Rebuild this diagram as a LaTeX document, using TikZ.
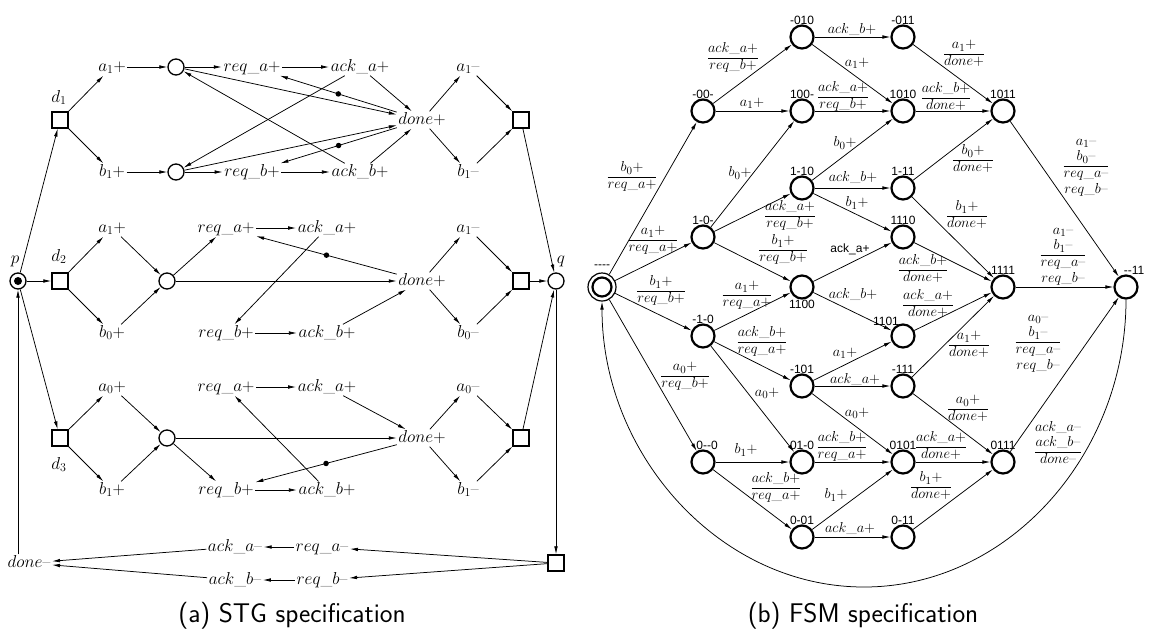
\documentclass[tikz,border=0pt]{standalone}
\usepackage{amsmath}
\usepackage{fontspec}
\newfontfamily\statefont{Liberation Sans}
\usetikzlibrary{arrows.meta}
\renewcommand{\arraystretch}{0.88}
\setlength{\arrayrulewidth}{0.6pt}
% stacked edge labels: input over output signals
\newcommand{\fr}[2]{\begin{tabular}{@{}c@{}}#1\\\hline #2\end{tabular}}
\newcommand{\frt}[3]{\begin{tabular}{@{}c@{}}#1\\#2\\\hline #3\end{tabular}}
\newcommand{\frq}[4]{\begin{tabular}{@{}c@{}}#1\\#2\\\hline #3\\#4\end{tabular}}
\newcommand{\hy}{-\kern0pt}
\begin{document}
\begin{tikzpicture}[x=1pt,y=-1pt,
  >={Latex[length=8pt,width=3.6pt]},
  cn/.style={->,line width=0.75pt},
  lt/.style={font=\fontsize{17}{20}\selectfont,inner sep=1.5pt,text height=11pt,text depth=3pt},
  pl/.style={circle,draw,line width=1.3pt,minimum size=16pt,inner sep=0pt},
  tr/.style={rectangle,draw,line width=1.3pt,minimum size=16pt,inner sep=0pt},
  tok/.style={circle,fill,inner sep=0pt,minimum size=5.5pt},
  st/.style={circle,draw,line width=2.2pt,minimum size=23pt,inner sep=0pt,label distance=5.5pt},
  slbl/.style={font=\statefont\fontsize{12}{14}\selectfont,inner sep=0pt},
  el/.style={font=\fontsize{15}{18}\selectfont,inner sep=0pt},
  captxt/.style={font=\sffamily\fontsize{27}{31}\selectfont,inner sep=0pt}]
\useasboundingbox (0,0) rectangle (1155,632);

% ================= STG =================
% upper branch
\node[tr] (d1) at (60,120) {};
\node[lt] (d1l) at (59,98) {$d_1$};
\node[lt] (a1p1) at (112,67) {$a_1$+};
\node[pl] (c1) at (176,67) {};
\node[lt] (ra1) at (252,67) {$req\_a$+};
\node[lt] (aa1) at (360,67) {$ack\_a$+};
\node[lt] (am1) at (468,67) {$a_1$\textendash};
\node[lt] (dn1) at (422,120) {$done$+};
\node[tr] (r1) at (521,120) {};
\node[lt] (b1p1) at (112,172) {$b_1$+};
\node[pl] (c2) at (176,172) {};
\node[lt] (rb1) at (252,172) {$req\_b$+};
\node[lt] (ab1) at (360,172) {$ack\_b$+};
\node[lt] (bm1) at (468,172) {$b_1$\textendash};

% middle branch
\node[pl] (p) at (18,281) {};
\fill (p.center) circle (4pt);
\node[lt] (pl) at (15,259) {$p$};
\node[tr] (d2) at (60,281) {};
\node[lt] (d2l) at (59,257) {$d_2$};
\node[lt] (a1p2) at (112,228) {$a_1$+};
\node[pl] (c3) at (167,281) {};
\node[lt] (ra2) at (226,228) {$req\_a$+};
\node[lt] (aa2) at (327,228) {$ack\_a$+};
\node[lt] (am2) at (468,228) {$a_1$\textendash};
\node[lt] (dn2) at (422,281) {$done$+};
\node[tr] (r2) at (521,281) {};
\node[pl] (q) at (556,281) {};
\node[lt] (ql) at (561,259) {$q$};
\node[lt] (b0p2) at (112,333) {$b_0$+};
\node[lt] (rb2) at (226,333) {$req\_b$+};
\node[lt] (ab2) at (327,333) {$ack\_b$+};
\node[lt] (bm2) at (468,333) {$b_0$\textendash};

% lower branch
\node[lt] (a0p3) at (112,387) {$a_0$+};
\node[lt] (ra3) at (226,387) {$req\_a$+};
\node[lt] (aa3) at (327,387) {$ack\_a$+};
\node[lt] (am3) at (468,387) {$a_0$\textendash};
\node[tr] (d3) at (60,438) {};
\node[lt] (d3l) at (59,465) {$d_3$};
\node[pl] (c4) at (167,438) {};
\node[lt] (dn3) at (422,438) {$done$+};
\node[tr] (r3) at (521,438) {};
\node[lt] (b1p3) at (112,490) {$b_1$+};
\node[lt] (rb3) at (226,490) {$req\_b$+};
\node[lt] (ab3) at (327,490) {$ack\_b$+};
\node[lt] (bm3) at (468,490) {$b_1$\textendash};

% return to zero
\node[lt] (dnm) at (29,563) {$done$\textendash};
\node[lt] (aam) at (235,547) {$ack\_a$\textendash};
\node[lt] (ram) at (322,547) {$req\_a$\textendash};
\node[lt] (abm) at (235,580) {$ack\_b$\textendash};
\node[lt] (rbm) at (322,580) {$req\_b$\textendash};
\node[tr] (r4) at (556,563) {};

\node[captxt] (capa) at (292,616) {(a) STG specification};

% arcs, upper branch
\draw[cn] (p) -- (d1);
\draw[cn] (d1) -- (a1p1);
\draw[cn] (d1) -- (b1p1);
\draw[cn] (a1p1) -- (c1);
\draw[cn] (b1p1) -- (c2);
\draw[cn] (c1) -- (ra1);
\draw[cn] (ra1) -- (aa1);
\draw[cn] (c2) -- (rb1);
\draw[cn] (rb1) -- (ab1);
\draw[cn] (c1) -- (dn1);
\draw[cn] (c2) -- (dn1);
\draw[cn] (aa1) -- (dn1);
\draw[cn] (ab1) -- (dn1);
\draw[cn] (aa1) -- (c2);
\draw[cn] (ab1) -- (c1);
\draw[cn] (dn1) -- node[tok] (t1) {} (ra1);
\draw[cn] (dn1) -- node[tok] (t2) {} (rb1);
\draw[cn] (dn1) -- (am1);
\draw[cn] (dn1) -- (bm1);
\draw[cn] (am1) -- (r1);
\draw[cn] (bm1) -- (r1);
\draw[cn] (r1) -- (q);

% arcs, middle branch
\draw[cn] (p) -- (d2);
\draw[cn] (d2) -- (a1p2);
\draw[cn] (d2) -- (b0p2);
\draw[cn] (a1p2) -- (c3);
\draw[cn] (b0p2) -- (c3);
\draw[cn] (c3) -- (ra2);
\draw[cn] (c3) -- (dn2);
\draw[cn] (ra2) -- (aa2);
\draw[cn] (aa2) -- (rb2);
\draw[cn] (rb2) -- (ab2);
\draw[cn] (ab2) -- (dn2);
\draw[cn] (dn2) -- node[tok] (t3) {} (ra2);
\draw[cn] (dn2) -- (am2);
\draw[cn] (dn2) -- (bm2);
\draw[cn] (am2) -- (r2);
\draw[cn] (bm2) -- (r2);
\draw[cn] (r2) -- (q);

% arcs, lower branch
\draw[cn] (p) -- (d3);
\draw[cn] (d3) -- (a0p3);
\draw[cn] (d3) -- (b1p3);
\draw[cn] (a0p3) -- (c4);
\draw[cn] (b1p3) -- (c4);
\draw[cn] (c4) -- (dn3);
\draw[cn] (c4) -- (rb3);
\draw[cn] (ra3) -- (aa3);
\draw[cn] (aa3) -- (dn3);
\draw[cn] (rb3) -- (ab3);
\draw[cn] (ab3) -- (ra3);
\draw[cn] (dn3) -- node[tok] (t4) {} (rb3);
\draw[cn] (dn3) -- (am3);
\draw[cn] (dn3) -- (bm3);
\draw[cn] (am3) -- (r3);
\draw[cn] (bm3) -- (r3);
\draw[cn] (r3) -- (q);

% arcs, return to zero
\draw[cn] (q) -- (r4);
\draw[cn] (r4) -- (ram);
\draw[cn] (r4) -- (rbm);
\draw[cn] (ram) -- (aam);
\draw[cn] (rbm) -- (abm);
\draw[cn] (aam) -- (dnm);
\draw[cn] (abm) -- (dnm);
\draw[cn] (dnm.north -| p) -- (p);

% ================= FSM =================
\node[circle,draw,line width=1.2pt,minimum size=28pt,inner sep=0pt,
      label={[slbl,label distance=4pt]above:\hy\hy\hy\hy}] (s0) at (602,287) {};
\draw[line width=2.2pt] (s0.center) circle (9.5pt);

\node[st,label={[slbl]above:\hy 010}] (n010) at (802,37) {};
\node[st,label={[slbl]above:\hy 011}] (n011) at (903,37) {};
\node[st,label={[slbl]above:\hy 00\hy}] (n00) at (703,111) {};
\node[st,label={[slbl]above:100\hy}] (n100) at (802,111) {};
\node[st,label={[slbl]above:1010}] (n1010) at (903,111) {};
\node[st,label={[slbl]above:1011}] (n1011) at (1003,111) {};
\node[st,label={[slbl]above:1\hy 10}] (n1x10) at (802,188) {};
\node[st,label={[slbl]above:1\hy 11}] (n1x11) at (903,188) {};
\node[st,label={[slbl]above:1\hy 0\hy}] (n10) at (703,237) {};
\node[st,label={[slbl]above:1110}] (n1110) at (903,237) {};
\node[st,label={[slbl]below:1100}] (n1100) at (802,287) {};
\node[st,label={[slbl]above:1111}] (n1111) at (1003,287) {};
\node[st,label={[slbl,xshift=8pt]above:\hy\hy 11}] (n11) at (1126,287) {};
\node[st,label={[slbl]above:\hy 1\hy 0}] (nx10) at (703,336) {};
\node[st,label={[slbl,xshift=-17pt,yshift=-2pt]above:1101}] (n1101) at (903,336) {};
\node[st,label={[slbl]above:\hy 101}] (nx101) at (802,386) {};
\node[st,label={[slbl]above:\hy 111}] (nx111) at (903,386) {};
\node[st,label={[slbl,xshift=4pt]above:0\hy\hy 0}] (n0x0) at (703,462) {};
\node[st,label={[slbl]above:01\hy 0}] (n01x0) at (802,462) {};
\node[st,label={[slbl]above:0101}] (n0101) at (903,462) {};
\node[st,label={[slbl]above:0111}] (n0111) at (1003,462) {};
\node[st,label={[slbl]above:0\hy 01}] (n0x01) at (802,537) {};
\node[st,label={[slbl]above:0\hy 11}] (n0x11) at (903,537) {};

% transitions
\draw[cn] (s0) -- (n00);
\draw[cn] (s0) -- (n10);
\draw[cn] (s0) -- (nx10);
\draw[cn] (s0) -- (n0x0);
\draw[cn] (n11.south) .. controls (1126,454) and (1009,587) .. (864,587)
          .. controls (719,587) and (602,454) .. (s0.south);
\draw[cn] (n00) -- (n010);
\draw[cn] (n00) -- (n100);
\draw[cn] (n010) -- (n011);
\draw[cn] (n010) -- (n1010);
\draw[cn] (n100) -- (n1010);
\draw[cn] (n10) -- (n100);
\draw[cn] (n1x10) -- (n1010);
\draw[cn] (n011) -- (n1011);
\draw[cn] (n1010) -- (n1011);
\draw[cn] (n1x11) -- (n1011);
\draw[cn] (n1011) -- (n11);
\draw[cn] (n10) -- (n1x10);
\draw[cn] (n10) -- (n1100);
\draw[cn] (nx10) -- (n1100);
\draw[cn] (nx10) -- (nx101);
\draw[cn] (nx10) -- (n01x0);
\draw[cn] (n1x10) -- (n1x11);
\draw[cn] (n1x10) -- (n1110);
\draw[cn] (n1100) -- (n1110);
\draw[cn] (n1100) -- (n1101);
\draw[cn] (nx101) -- (n1101);
\draw[cn] (nx101) -- (nx111);
\draw[cn] (n1x11) -- (n1111);
\draw[cn] (n1110) -- (n1111);
\draw[cn] (n1101) -- (n1111);
\draw[cn] (nx111) -- (n1111);
\draw[cn] (n1111) -- (n11);
\draw[cn] (n0111) -- (n11);
\draw[cn] (nx111) -- (n0111);
\draw[cn] (nx101) -- (n0101);
\draw[cn] (n0x0) -- (n01x0);
\draw[cn] (n0x0) -- (n0x01);
\draw[cn] (n01x0) -- (n0101);
\draw[cn] (n0101) -- (n0111);
\draw[cn] (n0x01) -- (n0101);
\draw[cn] (n0x01) -- (n0x11);
\draw[cn] (n0x11) -- (n0111);

% transition labels
\node[el] (l1) at (632,177) {\fr{$b_0$+}{$req\_a$+}};
\node[el] (l2) at (653,240) {\fr{$a_1$+}{$req\_a$+}};
\node[el] (l3) at (661,291) {\fr{$b_1$+}{$req\_b$+}};
\node[el] (l4) at (685,376) {\fr{$a_0$+}{$req\_b$+}};
\node[el] (l5) at (1058,444) {\frt{$ack\_a$\textendash}{$ack\_b$\textendash}{$done$\textendash}};
\node[el] (l6) at (733,58) {\fr{$ack\_a$+}{$req\_b$+}};
\node[el] (l7) at (752,103) {$a_1$+};
\node[el] (l8) at (852,30) {$ack\_b$+};
\node[el] (l9) at (857,63) {$a_1$+};
\node[el] (l10) at (843,97) {\fr{$ack\_a$+}{$req\_b$+}};
\node[el] (l11) at (740,173) {$b_0$+};
\node[el] (l12) at (845,143) {$b_0$+};
\node[el] (l13) at (964,54) {\fr{$a_1$+}{$done$+}};
\node[el] (l14) at (946,98) {\fr{$ack\_b$+}{$done$+}};
\node[el] (l15) at (973,160) {\fr{$b_0$+}{$done$+}};
\node[el] (l16) at (1086,166) {\frq{$a_1$\textendash}{$b_0$\textendash}{$req\_a$\textendash}{$req\_b$\textendash}};
\node[el] (l17) at (790,216) {\fr{$ack\_a$+}{$req\_b$+}};
\node[el] (l18) at (783,250) {\fr{$b_1$+}{$req\_b$+}};
\node[el] (l19) at (747,295) {\fr{$a_1$+}{$req\_a$+}};
\node[el] (l20) at (762,342) {\fr{$ack\_b$+}{$req\_a$+}};
\node[el] (l21) at (767,393) {$a_0$+};
\node[el] (l22) at (853,178) {$ack\_b$+};
\node[el] (l23) at (857,203) {$b_1$+};
\node[slbl] (l24) at (850,249) {ack\_a+};
\node[el] (l25) at (853,294) {$ack\_b$+};
\node[el] (l26) at (845,353) {$a_1$+};
\node[el] (l27) at (855,379) {$ack\_a$+};
\node[el] (l28) at (967,216) {\fr{$b_1$+}{$done$+}};
\node[el] (l29) at (923,270) {\fr{$ack\_b$+}{$done$+}};
\node[el] (l30) at (928,305) {\fr{$ack\_a$+}{$done$+}};
\node[el] (l31) at (969,345) {\fr{$a_1$+}{$done$+}};
\node[el] (l32) at (1063,255) {\frq{$a_1$\textendash}{$b_1$\textendash}{$req\_a$\textendash}{$req\_b$\textendash}};
\node[el] (l33) at (1038,342) {\frq{$a_0$\textendash}{$b_1$\textendash}{$req\_a$\textendash}{$req\_b$\textendash}};
\node[el] (l34) at (968,409) {\fr{$a_0$+}{$done$+}};
\node[el] (l35) at (857,413) {$a_0$+};
\node[el] (l36) at (746,450) {$b_1$+};
\node[el] (l37) at (776,488) {\fr{$ack\_b$+}{$req\_a$+}};
\node[el] (l38) at (842,447) {\fr{$ack\_b$+}{$req\_a$+}};
\node[el] (l39) at (941,447) {\fr{$ack\_a$+}{$done$+}};
\node[el] (l40) at (836,495) {$b_1$+};
\node[el] (l41) at (850,528) {$ack\_a$+};
\node[el] (l42) at (931,487) {\fr{$b_1$+}{$done$+}};

\node[captxt] (capb) at (863,616) {(b) FSM specification};
\end{tikzpicture}
\end{document}
